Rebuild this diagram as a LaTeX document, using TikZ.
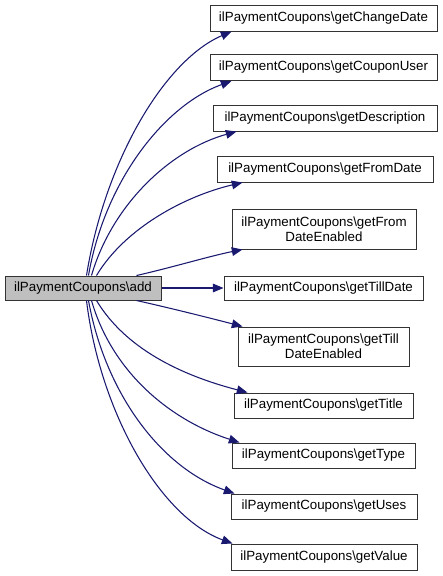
\documentclass[tikz,border=0pt]{standalone}
\usepackage{fontspec}
\setmainfont{Liberation Sans}
\usetikzlibrary{arrows.meta,calc}
\definecolor{edgeblue}{HTML}{191970}
\definecolor{boxline}{HTML}{333333}
\definecolor{addfill}{HTML}{BFBFBF}
\begin{document}
\begin{tikzpicture}[x=0.75pt,y=-0.75pt,
  box/.style={draw=boxline,line width=0.75pt,fill=white,inner sep=0pt,align=center,
    font=\fontsize{10pt}{11.5pt}\selectfont},
  edge/.style={draw=edgeblue,line width=0.8pt,
    -{Triangle[length=8pt,width=6.5pt]}}]
\useasboundingbox (0,0) rectangle (443,576);
\node[box,fill=addfill,minimum width=156*0.75pt,minimum height=24*0.75pt] (add) at (83,288) {ilPaymentCoupons\textbackslash add};
\node[box,minimum width=227*0.75pt,minimum height=26*0.75pt] (cd) at (323.5,18) {ilPaymentCoupons\textbackslash getChangeDate};
\node[box,minimum width=227*0.75pt,minimum height=26*0.75pt] (cu) at (323.5,67.5) {ilPaymentCoupons\textbackslash getCouponUser};
\node[box,minimum width=224*0.75pt,minimum height=26*0.75pt] (de) at (325,118) {ilPaymentCoupons\textbackslash getDescription};
\node[box,minimum width=216*0.75pt,minimum height=26*0.75pt] (fd) at (325,169) {ilPaymentCoupons\textbackslash getFromDate};
\node[box,minimum width=184*0.75pt,minimum height=40*0.75pt] (fde) at (324,229) {ilPaymentCoupons\textbackslash getFrom\\DateEnabled};
\node[box,minimum width=199*0.75pt,minimum height=24*0.75pt] (td) at (323.5,288) {ilPaymentCoupons\textbackslash getTillDate};
\node[box,minimum width=171*0.75pt,minimum height=39*0.75pt] (tde) at (323.5,346.5) {ilPaymentCoupons\textbackslash getTill\\DateEnabled};
\node[box,minimum width=179*0.75pt,minimum height=25*0.75pt] (ti) at (323.5,405.5) {ilPaymentCoupons\textbackslash getTitle};
\node[box,minimum width=183*0.75pt,minimum height=25*0.75pt] (ty) at (323.5,455.5) {ilPaymentCoupons\textbackslash getType};
\node[box,minimum width=186*0.75pt,minimum height=25*0.75pt] (us) at (324,506.5) {ilPaymentCoupons\textbackslash getUses};
\node[box,minimum width=186*0.75pt,minimum height=26*0.75pt] (va) at (324,557) {ilPaymentCoupons\textbackslash getValue};
% edges
\draw[edge] ($(add.north west)+(82,0)$) .. controls (105,160) and (165,60) .. ($(cd.south west)+(22,0)$);
\draw[edge] ($(add.north west)+(84,0)$) .. controls (105,180) and (165,105) .. ($(cu.south west)+(22,0)$);
\draw[edge] ($(add.north west)+(87,0)$) .. controls (112,205) and (170,150) .. ($(de.south west)+(24,0)$);
\draw[edge] ($(add.north west)+(92,0)$) .. controls (125,228) and (185,196) .. ($(fd.south west)+(26,0)$);
\draw[edge] ($(add.north west)+(132,0)$) .. controls (170,268) and (210,256) .. ($(fde.south west)+(11,0)$);
\draw[edge] (add.east) -- (td.west);
\draw[edge] ($(add.south west)+(132,0)$) .. controls (170,308) and (210,318) .. ($(tde.north west)+(5,0)$);
\draw[edge] ($(add.south west)+(92,0)$) .. controls (125,348) and (180,375) .. ($(ti.north west)+(14,0)$);
\draw[edge] ($(add.south west)+(87,0)$) .. controls (112,372) and (170,420) .. ($(ty.north west)+(8,0)$);
\draw[edge] ($(add.south west)+(84,0)$) .. controls (105,392) and (160,467) .. ($(us.north west)+(4,0)$);
\draw[edge] ($(add.south west)+(82,0)$) .. controls (100,412) and (160,517) .. ($(va.north west)+(2,0)$);
\end{tikzpicture}
\end{document}
